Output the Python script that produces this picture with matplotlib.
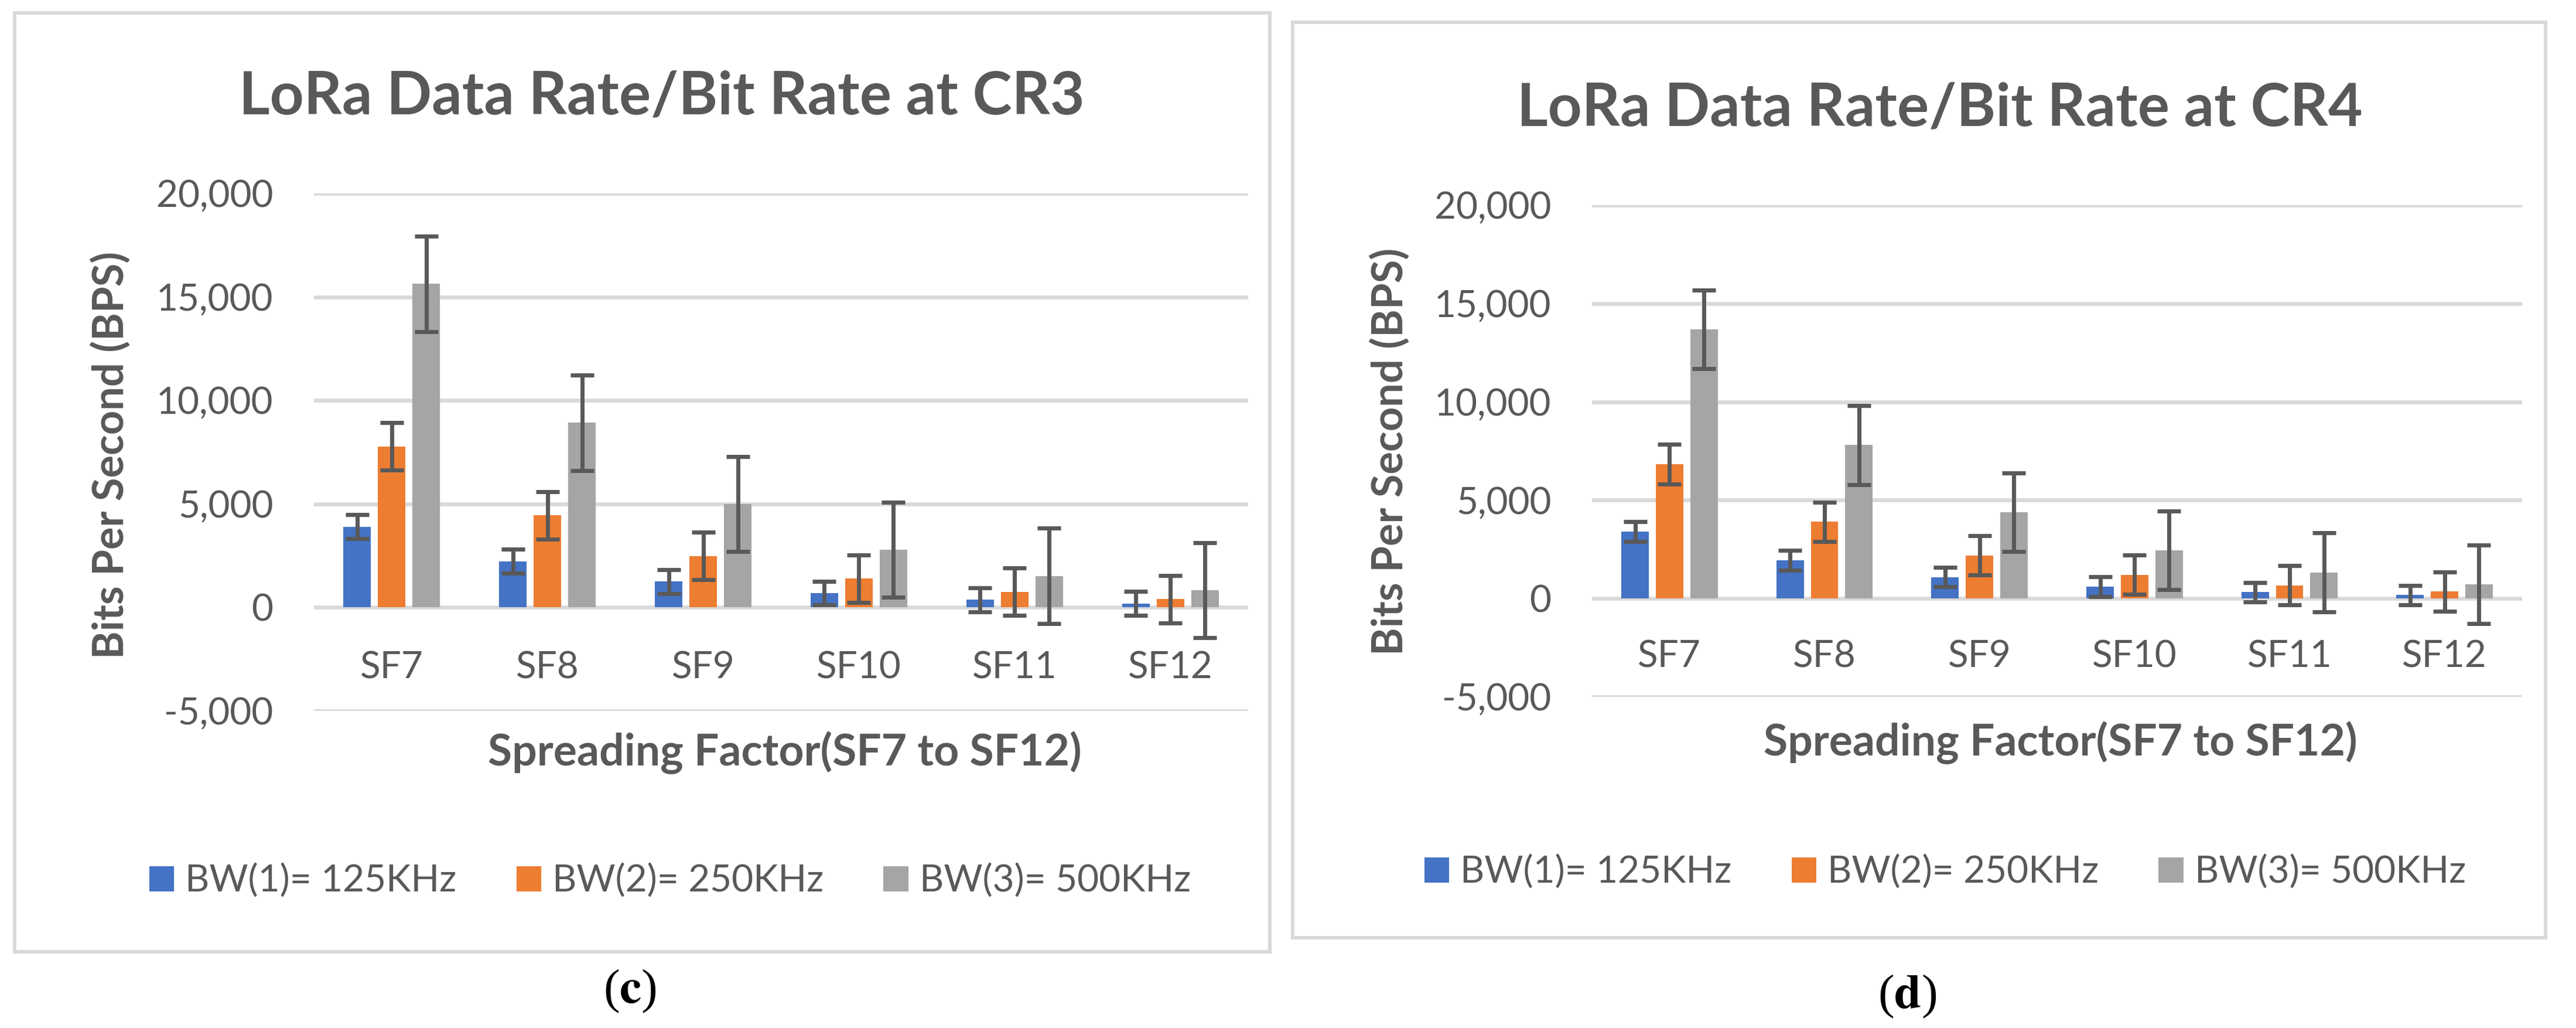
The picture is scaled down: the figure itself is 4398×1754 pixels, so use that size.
import numpy as np
import matplotlib.pyplot as plt
import matplotlib.transforms as mtransforms
from matplotlib.patches import Rectangle, Patch
from matplotlib.ticker import FuncFormatter

W, H = 4398, 1754
DPI = 100

plt.rcParams['font.family'] = ['Lato', 'DejaVu Sans']
plt.rcParams['mathtext.fontset'] = 'stix'

TXT = '#595959'
GRID = '#D9D9D9'

categories = ["SF7", "SF8", "SF9", "SF10", "SF11", "SF12"]
series_names = ["BW(1)= 125KHz", "BW(2)= 250KHz", "BW(3)= 500KHz"]
colors = ["#4472C4", "#ED7D31", "#A5A5A5"]

# CR3 panel (c)
cr3_bw125 = [3900, 2230, 1250, 690, 370, 190]
cr3_bw250 = [7780, 4450, 2480, 1390, 760, 400]
cr3_bw500 = [15630, 8920, 5000, 2780, 1520, 830]
cr3_err125 = [575, 575, 575, 575, 575, 575]
cr3_err250 = [1150, 1150, 1150, 1150, 1150, 1150]
cr3_err500 = [2300, 2300, 2300, 2300, 2300, 2300]

# CR4 panel (d)
cr4_bw125 = [3410, 1950, 1090, 610, 320, 170]
cr4_bw250 = [6830, 3900, 2190, 1210, 670, 350]
cr4_bw500 = [13680, 7800, 4380, 2440, 1330, 730]
cr4_err125 = [500, 500, 500, 500, 500, 500]
cr4_err250 = [1000, 1000, 1000, 1000, 1000, 1000]
cr4_err500 = [2000, 2000, 2000, 2000, 2000, 2000]

yticks = [-5000, 0, 5000, 10000, 15000, 20000]


def fx(x):
    return x / W


def fy(y):
    return 1 - y / H


fig = plt.figure(figsize=(W / DPI, H / DPI), dpi=DPI)


def panel(box, ax_px, title, title_xy, ylab_xy, xlab_xy, leg_xy, tag, tag_xy,
          tick_frac, vals, errs):
    # chart border
    x0, y0, x1, y1 = box
    fig.patches.append(Rectangle((fx(x0), fy(y1)), (x1 - x0) / W, (y1 - y0) / H,
                                 transform=fig.transFigure, fill=False,
                                 edgecolor=GRID, linewidth=4.3))
    l, t, r, b = ax_px
    ax = fig.add_axes([fx(l), fy(b), (r - l) / W, (b - t) / H])
    x = np.arange(len(categories))
    offs = [-0.222, 0.0, 0.222]
    for v, e, c, o in zip(vals, errs, colors, offs):
        ax.bar(x + o, v, width=0.177, color=c, zorder=3)
        ax.errorbar(x + o, v, yerr=e, fmt='none', ecolor=TXT, elinewidth=5,
                    capsize=14.4, capthick=5, zorder=4)
    ax.set_xlim(-0.5, len(categories) - 0.5)
    ax.set_ylim(-5000, 20000)
    ax.set_yticks(yticks)
    ax.yaxis.set_major_formatter(FuncFormatter(lambda v, p: f'{int(v):,}'))
    ax.grid(axis='y', color=GRID, linewidth=4.7, zorder=0)
    ax.set_axisbelow(True)
    for s in ax.spines.values():
        s.set_visible(False)
    ax.tick_params(axis='y', length=0, pad=50, labelsize=46, labelcolor=TXT)
    ax.set_xticks([])
    trans = mtransforms.blended_transform_factory(ax.transData, ax.transAxes)
    for i, cat in enumerate(categories):
        ax.text(i, tick_frac, cat, transform=trans, ha='center', va='baseline',
                fontsize=46, color=TXT)

    fig.text(fx(title_xy[0]), fy(title_xy[1]), title, ha='center', va='baseline',
             fontsize=73, fontweight='bold', color=TXT)
    fig.text(fx(ylab_xy[0]), fy(ylab_xy[1]), 'Bits Per Second (BPS)', rotation=90,
             ha='center', va='center', fontsize=52, fontweight='bold', color=TXT)
    fig.text(fx(xlab_xy[0]), fy(xlab_xy[1]), 'Spreading Factor(SF7 to SF12)',
             ha='center', va='baseline', fontsize=54, fontweight='bold', color=TXT)
    handles = [Patch(facecolor=c, edgecolor='none') for c in colors]
    fig.legend(handles, series_names, loc='center',
               bbox_to_anchor=(fx(leg_xy[0]), fy(leg_xy[1])), ncol=3,
               frameon=False, fontsize=46, labelcolor=TXT,
               handlelength=0.66, handleheight=0.66, handletextpad=0.3,
               columnspacing=1.6)
    fig.text(fx(tag_xy[0]), fy(tag_xy[1]), '(' + r'$\mathbf{' + tag + '}$' + ')',
             ha='center', va='center', fontsize=60, family='Liberation Serif',
             color='black')
    return ax


panel((25, 22, 2168, 1624), (536, 330, 2131, 1213),
      'LoRa Data Rate/Bit Rate at CR3', (1130, 195), (189, 776), (1340, 1306),
      (1144, 1503), 'c', (1075, 1691), 0.0634,
      [cr3_bw125, cr3_bw250, cr3_bw500], [cr3_err125, cr3_err250, cr3_err500])

panel((2207, 38, 4346, 1600), (2718, 350, 4306, 1189),
      'LoRa Data Rate/Bit Rate at CR4', (3312, 214), (2373, 771), (3518, 1289),
      (3321, 1488), 'd', (3256, 1700), 0.0596,
      [cr4_bw125, cr4_bw250, cr4_bw500], [cr4_err125, cr4_err250, cr4_err500])

fig.savefig('out.png', dpi=DPI, facecolor='white')
